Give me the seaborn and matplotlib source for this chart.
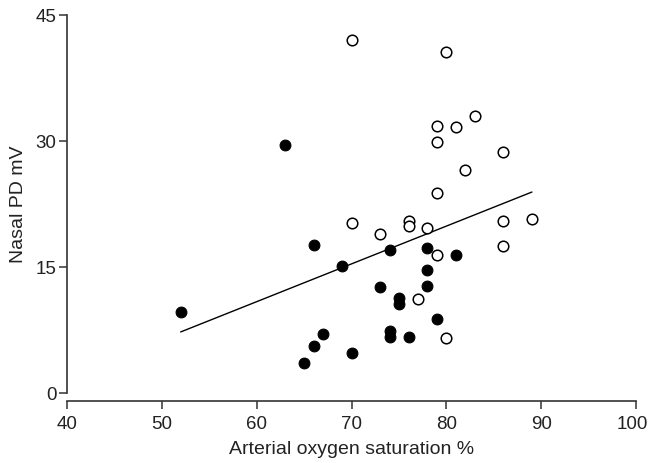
import pandas as pd
import seaborn as sns
import matplotlib.pyplot as plt
from matplotlib.transforms import ScaledTranslation

# filled circles
sat_filled = [52, 63, 65, 66, 66, 67, 69, 70, 73, 74, 74, 74, 75, 75, 76, 78, 78, 78, 79, 81]
pd_filled = [9.7, 29.6, 3.6, 5.6, 17.6, 7.0, 15.1, 4.8, 12.6, 17.1, 7.4, 6.7, 11.3, 10.6, 6.7,
             17.3, 14.7, 12.8, 8.9, 16.4]

# open circles
sat_open = [70, 80, 79, 81, 83, 79, 86, 82, 79, 70, 76, 76, 78, 86, 89, 73, 79, 86, 77, 80]
pd_open = [42.0, 40.6, 31.8, 31.7, 33.0, 29.9, 28.7, 26.6, 23.8, 20.3, 20.5, 19.9, 19.7, 20.5,
           20.7, 18.9, 16.4, 17.5, 11.2, 6.6]

sns.set_style("ticks")
plt.rcParams["font.family"] = ["Liberation Sans", "DejaVu Sans"]
plt.rcParams["font.size"] = 14

df_filled = pd.DataFrame({"sat": sat_filled, "pd": pd_filled})
df_open = pd.DataFrame({"sat": sat_open, "pd": pd_open})
df_all = pd.concat([df_filled, df_open], ignore_index=True)

fig = plt.figure(figsize=(6.51, 4.63), dpi=100)
ax = fig.add_axes([0.1025, 0.1505, 0.875, 0.817])

# single fit through both groups
sns.regplot(data=df_all, x="sat", y="pd", scatter=False, ci=None, truncate=True,
            line_kws={"color": "black", "lw": 1.0}, ax=ax)
sns.scatterplot(data=df_filled, x="sat", y="pd", s=60, color="black",
                edgecolor="black", linewidth=0.8, ax=ax, zorder=3)
sns.scatterplot(data=df_open, x="sat", y="pd", s=58, facecolor="white",
                edgecolor="black", linewidth=1.1, ax=ax, zorder=3)

ax.set_xlim(40, 100)
ax.set_ylim(0, 45)
ax.set_xticks([40, 50, 60, 70, 80, 90, 100])
ax.set_yticks([0, 15, 30, 45])

for side in ["top", "right"]:
    ax.spines[side].set_visible(False)
ax.spines["bottom"].set_position(("outward", 5.5))
for side in ["left", "bottom"]:
    ax.spines[side].set_color("#333333")
    ax.spines[side].set_linewidth(1.2)
ax.tick_params(direction="out", length=5.5, width=1.1, color="#333333",
               labelsize=13.5, labelcolor="#222222")
ax.tick_params(axis="x", pad=5)
ax.tick_params(axis="y", pad=2)

# keep the last x label inside the figure
last = ax.get_xticklabels()[-1]
last.set_transform(last.get_transform() + ScaledTranslation(-4 / 100, 0, fig.dpi_scale_trans))

ax.set_xlabel("Arterial oxygen saturation %", fontsize=14, color="#222222", labelpad=6)
ax.set_ylabel("Nasal PD mV", fontsize=14, color="#222222", labelpad=6)

plt.savefig("out.png", dpi=100)
